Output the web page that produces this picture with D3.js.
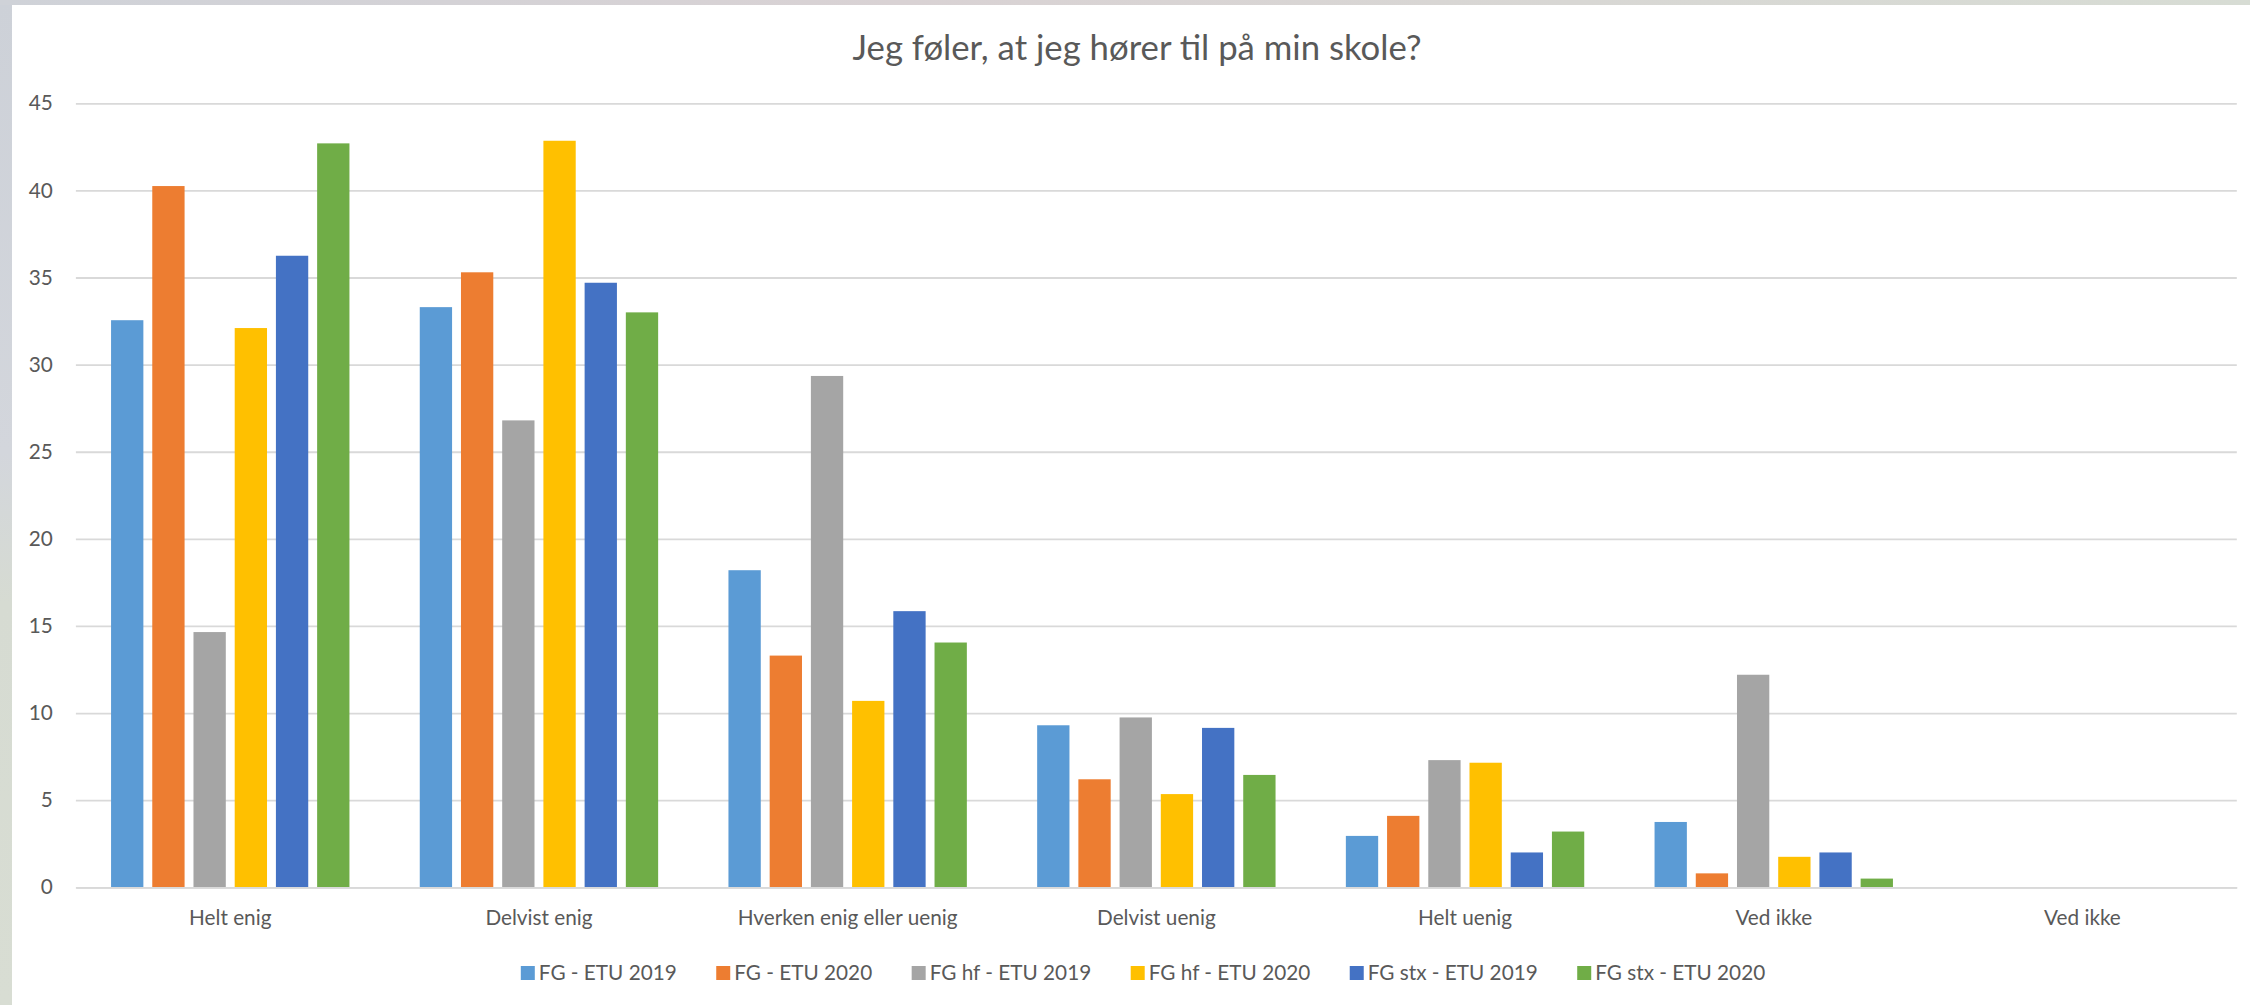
<!DOCTYPE html>
<html>
<head>
<meta charset="utf-8">
<script src="https://cdn.jsdelivr.net/npm/d3@7"></script>
<style>
  html, body { margin: 0; padding: 0; background: #fff; }
  svg { display: block; }
  text { font-family: Lato, "Open Sans", sans-serif; fill: #595959; }
</style>
</head>
<body>
<svg id="chart" width="2250" height="1005"></svg>
<script>
// ---- data ----
const categories = ["Helt enig", "Delvist enig", "Hverken enig eller uenig", "Delvist uenig", "Helt uenig", "Ved ikke", "Ved ikke"];
const seriesNames = ["FG - ETU 2019", "FG - ETU 2020", "FG hf - ETU 2019", "FG hf - ETU 2020", "FG stx - ETU 2019", "FG stx - ETU 2020"];
const fgEtu2019    = [32.55, 33.3, 18.2, 9.3, 2.95, 3.75, null];
const fgEtu2020    = [40.25, 35.3, 13.3, 6.2, 4.1, 0.8, null];
const fgHf2019     = [14.65, 26.8, 29.35, 9.75, 7.3, 12.2, null];
const fgHf2020     = [32.1, 42.85, 10.7, 5.35, 7.15, 1.75, null];
const fgStx2019    = [36.25, 34.7, 15.85, 9.15, 2.0, 2.0, null];
const fgStx2020    = [42.7, 33.0, 14.05, 6.45, 3.2, 0.5, null];
const yTickValues  = [0, 5, 10, 15, 20, 25, 30, 35, 40, 45];
const titleText    = "Jeg føler, at jeg hører til på min skole?";
const seriesColors = ["#5B9BD5", "#ED7D31", "#A5A5A5", "#FFC000", "#4472C4", "#70AD47"];

const seriesValues = [fgEtu2019, fgEtu2020, fgHf2019, fgHf2020, fgStx2019, fgStx2020];

// ---- layout ----
const svg = d3.select("#chart");
const W = 2250, H = 1005;
const plot = { left: 75.9, right: 2236.8, top: 103.3, bottom: 887.3 };

// background strip (screenshot edge)
const defs = svg.append("defs");
const grad = defs.append("linearGradient").attr("id", "edge").attr("x1", 0).attr("y1", 0).attr("x2", 0).attr("y2", 1);
grad.append("stop").attr("offset", "0%").attr("stop-color", "#cdd1d8");
grad.append("stop").attr("offset", "45%").attr("stop-color", "#d3d6dc");
grad.append("stop").attr("offset", "60%").attr("stop-color", "#d6dbd2");
grad.append("stop").attr("offset", "100%").attr("stop-color", "#d8ddd3");
svg.append("rect").attr("x", 0).attr("y", 0).attr("width", W).attr("height", H).attr("fill", "url(#edge)");
const topGrad = defs.append("linearGradient").attr("id", "topedge").attr("x1", 0).attr("y1", 0).attr("x2", 1).attr("y2", 0);
topGrad.append("stop").attr("offset", "0%").attr("stop-color", "#cfd2d8");
topGrad.append("stop").attr("offset", "40%").attr("stop-color", "#d9d2d4");
topGrad.append("stop").attr("offset", "100%").attr("stop-color", "#d7dcd4");
svg.append("rect").attr("x", 0).attr("y", 0).attr("width", W).attr("height", 5).attr("fill", "url(#topedge)");
svg.append("rect").attr("x", 12).attr("y", 5).attr("width", W - 12).attr("height", H - 5).attr("fill", "#ffffff");

// font fitting helper (substitute font for Calibri)
function fitSize(text, targetWidth, base) {
  const t = svg.append("text").style("font-size", base + "px").text(text);
  const w = t.node().getComputedTextLength();
  t.remove();
  return base * targetWidth / w;
}
const labelSize = fitSize("FG - ETU 2019", 138, 24);
const titleSize = fitSize(titleText, 569, 37);

// scales
const x = d3.scaleBand().domain(d3.range(categories.length)).range([plot.left, plot.right]).padding(0);
const xInner = d3.scaleBand().domain(d3.range(seriesNames.length)).range([0, x.bandwidth()])
  .paddingInner(0.216).paddingOuter(0.853);
const y = d3.scaleLinear().domain([0, 45]).range([plot.bottom, plot.top]);

// y axis with gridlines
const yAxis = d3.axisLeft(y).tickValues(yTickValues).tickSizeInner(-(plot.right - plot.left)).tickSizeOuter(0).tickPadding(23);
const gy = svg.append("g").attr("transform", `translate(${plot.left},0)`).call(yAxis);
gy.select(".domain").remove();
gy.selectAll(".tick line").attr("stroke", "#D9D9D9").attr("stroke-width", 1.8);
gy.selectAll(".tick text").style("font-size", labelSize + "px").style("font-family", "Lato, sans-serif").attr("fill", "#595959");

// bars
const groups = svg.append("g").selectAll("g").data(categories.map((c, i) => i)).join("g")
  .attr("transform", d => `translate(${x(d)},0)`);
groups.selectAll("rect")
  .data(ci => seriesValues.map((vals, si) => ({ si, v: vals[ci] })).filter(d => d.v != null))
  .join("rect")
  .attr("x", d => xInner(d.si))
  .attr("width", xInner.bandwidth())
  .attr("y", d => y(d.v))
  .attr("height", d => y(0) - y(d.v))
  .attr("fill", d => seriesColors[d.si]);

// x axis
const xAxis = d3.axisBottom(x).tickSize(0).tickPadding(23).tickFormat(i => categories[i]);
const gx = svg.append("g").attr("transform", `translate(0,${plot.bottom})`).call(xAxis);
gx.select(".domain").attr("stroke", "#D9D9D9").attr("stroke-width", 1.8);
gx.selectAll(".tick text").style("font-size", labelSize + "px").style("font-family", "Lato, sans-serif").attr("fill", "#595959");

// title
svg.append("text").attr("x", 1137).attr("y", 60).attr("text-anchor", "middle")
  .style("font-size", titleSize + "px").text(titleText);

// legend
const legend = svg.append("g");
const sq = 14, gapText = 4, gapItem = 39.5;
let cx = 0;
const items = seriesNames.map((name, i) => {
  const g = legend.append("g").attr("transform", `translate(${cx},0)`);
  g.append("rect").attr("x", 0).attr("y", -7).attr("width", sq).attr("height", sq).attr("fill", seriesColors[i]);
  const t = g.append("text").attr("x", sq + gapText).attr("y", 0).attr("dy", "0.35em")
    .style("font-size", labelSize + "px").text(name);
  const w = t.node().getComputedTextLength();
  cx += sq + gapText + w + gapItem;
  return g;
});
const totalW = cx - gapItem;
legend.attr("transform", `translate(${1143 - totalW / 2},973)`);
</script>
</body>
</html>
